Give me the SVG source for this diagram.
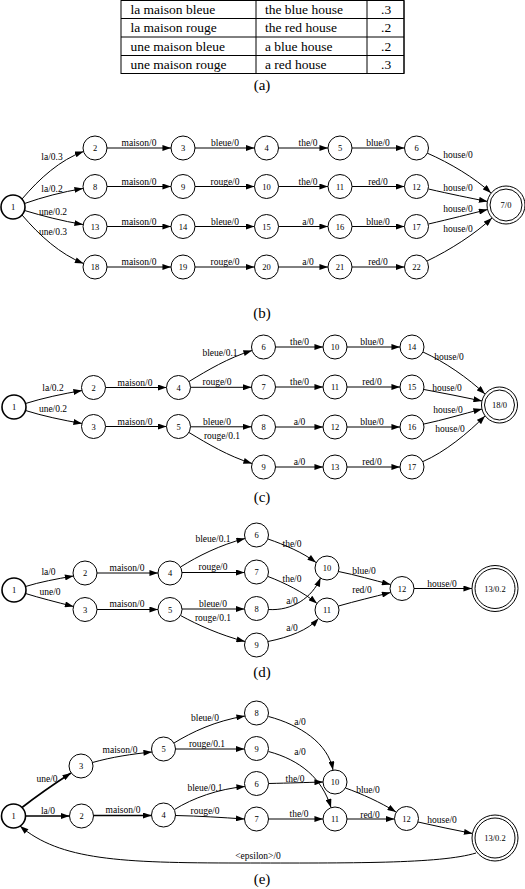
<svg xmlns="http://www.w3.org/2000/svg" width="525" height="889" viewBox="0 0 525 889">
<style>
  text { font-family: "Liberation Serif", "Times New Roman", serif; fill: #000; }
  .tt { font-size: 13.5px; }
  .cap { font-size: 15px; text-anchor: middle; }
  .nl { font-size: 8.5px; text-anchor: middle; }
  .el { font-size: 9.5px; text-anchor: middle; }
  .n { fill: #fff; stroke: #000; stroke-width: 1; }
  .i { fill: #fff; stroke: #000; stroke-width: 1.6; }
  .e { fill: none; stroke: #000; stroke-width: 1; marker-end: url(#a); }
  .b { stroke-width: 1.6; }
  .tl { stroke: #000; stroke-width: 1; fill: none; }
</style>
<defs>
  <marker id="a" viewBox="0 0 10 7" markerUnits="userSpaceOnUse" markerWidth="9" markerHeight="6" refX="10" refY="3.5" orient="auto">
    <path d="M0,0 L10,3.5 L0,7 z" fill="#000"/>
  </marker>
</defs>
<rect width="525" height="889" fill="#fff"/>

<!-- (a) table -->
<g id="table">
  <rect class="tl" x="121" y="0.5" width="283" height="73"/>
  <line class="tl" x1="121" y1="18.5" x2="404" y2="18.5"/>
  <line class="tl" x1="121" y1="37" x2="404" y2="37"/>
  <line class="tl" x1="121" y1="55.5" x2="404" y2="55.5"/>
  <line class="tl" x1="256" y1="0.5" x2="256" y2="73.5"/>
  <line class="tl" x1="367" y1="0.5" x2="367" y2="73.5" stroke-width="1.5"/>
  <line class="tl" x1="404" y1="0.5" x2="404" y2="73.5" stroke-width="2"/>
  <line class="tl" x1="121" y1="73.5" x2="404" y2="73.5" stroke-width="1.5"/>
  <text class="tt" x="130.5" y="13.5">la maison bleue</text>
  <text class="tt" x="130.5" y="32">la maison rouge</text>
  <text class="tt" x="130.5" y="50.5">une maison bleue</text>
  <text class="tt" x="130.5" y="69">une maison rouge</text>
  <text class="tt" x="265" y="13.5">the blue house</text>
  <text class="tt" x="265" y="32">the red house</text>
  <text class="tt" x="265" y="50.5">a blue house</text>
  <text class="tt" x="265" y="69">a red house</text>
  <text class="tt" x="381" y="13.5">.3</text>
  <text class="tt" x="381" y="32">.2</text>
  <text class="tt" x="381" y="50.5">.2</text>
  <text class="tt" x="381" y="69">.3</text>
</g>
<text class="cap" x="262" y="90">(a)</text>

<!-- (b) -->
<g id="b-edges">
  <path class="e" d="M22,199 C40,178 60,160 83.5,151.5"/>
  <path class="e" d="M24.5,203.5 C43,197 62,192 83,188.5"/>
  <path class="e" d="M24.5,210.5 C43,216 62,221 83,224.5"/>
  <path class="e" d="M22,215 C40,236 60,254 83.5,263.5"/>
  <path class="e" d="M107,148 H171"/><path class="e" d="M195,148 H254.5"/><path class="e" d="M278.5,148 H328"/><path class="e" d="M352,148 H404.5"/>
  <path class="e" d="M107,186.5 H171"/><path class="e" d="M195,186.5 H254.5"/><path class="e" d="M278.5,186.5 H328"/><path class="e" d="M352,186.5 H404.5"/>
  <path class="e" d="M107,226.5 H171"/><path class="e" d="M195,226.5 H254.5"/><path class="e" d="M278.5,226.5 H328"/><path class="e" d="M352,226.5 H404.5"/>
  <path class="e" d="M107,267 H171"/><path class="e" d="M195,267 H254.5"/><path class="e" d="M278.5,267 H328"/><path class="e" d="M352,267 H404.5"/>
  <path class="e" d="M427,153 C450,163 475,178 491,193"/>
  <path class="e" d="M428.5,189 C450,194 470,198 487.5,201.5"/>
  <path class="e" d="M428.5,224 C450,219 470,214 487.5,209.5"/>
  <path class="e" d="M427,261 C450,250 475,234 492,218"/>
  <text class="el" x="52" y="160">la/0.3</text>
  <text class="el" x="52" y="192">la/0.2</text>
  <text class="el" x="53" y="214.5">une/0.2</text>
  <text class="el" x="53" y="234.5">une/0.3</text>
  <text class="el" x="139" y="146">maison/0</text><text class="el" x="225" y="146">bleue/0</text><text class="el" x="308" y="146">the/0</text><text class="el" x="378" y="146">blue/0</text>
  <text class="el" x="139" y="184.5">maison/0</text><text class="el" x="225" y="184.5">rouge/0</text><text class="el" x="308" y="184.5">the/0</text><text class="el" x="378" y="184.5">red/0</text>
  <text class="el" x="139" y="224.5">maison/0</text><text class="el" x="225" y="224.5">bleue/0</text><text class="el" x="308" y="224.5">a/0</text><text class="el" x="378" y="224.5">blue/0</text>
  <text class="el" x="139" y="265">maison/0</text><text class="el" x="225" y="265">rouge/0</text><text class="el" x="308" y="265">a/0</text><text class="el" x="378" y="265">red/0</text>
  <text class="el" x="458" y="158">house/0</text>
  <text class="el" x="458" y="190.5">house/0</text>
  <text class="el" x="458" y="212">house/0</text>
  <text class="el" x="458" y="232">house/0</text>
</g>
<g id="b-n1"><circle class="i" cx="13" cy="207" r="12"/><text class="nl" x="13" y="210">1</text></g>
<g id="b-n2"><circle class="n" cx="95" cy="148" r="12"/><text class="nl" x="95" y="151">2</text></g>
<g id="b-n3"><circle class="n" cx="183" cy="148" r="12"/><text class="nl" x="183" y="151">3</text></g>
<g id="b-n4"><circle class="n" cx="266.5" cy="148" r="12"/><text class="nl" x="266.5" y="151">4</text></g>
<g id="b-n5"><circle class="n" cx="340" cy="148" r="12"/><text class="nl" x="340" y="151">5</text></g>
<g id="b-n6"><circle class="n" cx="416.5" cy="148" r="12"/><text class="nl" x="416.5" y="151">6</text></g>
<g id="b-n8"><circle class="n" cx="95" cy="186.5" r="12"/><text class="nl" x="95" y="189.5">8</text></g>
<g id="b-n9"><circle class="n" cx="183" cy="186.5" r="12"/><text class="nl" x="183" y="189.5">9</text></g>
<g id="b-n10"><circle class="n" cx="266.5" cy="186.5" r="12"/><text class="nl" x="266.5" y="189.5">10</text></g>
<g id="b-n11"><circle class="n" cx="340" cy="186.5" r="12"/><text class="nl" x="340" y="189.5">11</text></g>
<g id="b-n12"><circle class="n" cx="416.5" cy="186.5" r="12"/><text class="nl" x="416.5" y="189.5">12</text></g>
<g id="b-n13"><circle class="n" cx="95" cy="226.5" r="12"/><text class="nl" x="95" y="229.5">13</text></g>
<g id="b-n14"><circle class="n" cx="183" cy="226.5" r="12"/><text class="nl" x="183" y="229.5">14</text></g>
<g id="b-n15"><circle class="n" cx="266.5" cy="226.5" r="12"/><text class="nl" x="266.5" y="229.5">15</text></g>
<g id="b-n16"><circle class="n" cx="340" cy="226.5" r="12"/><text class="nl" x="340" y="229.5">16</text></g>
<g id="b-n17"><circle class="n" cx="416.5" cy="226.5" r="12"/><text class="nl" x="416.5" y="229.5">17</text></g>
<g id="b-n18"><circle class="n" cx="95" cy="267" r="12"/><text class="nl" x="95" y="270">18</text></g>
<g id="b-n19"><circle class="n" cx="183" cy="267" r="12"/><text class="nl" x="183" y="270">19</text></g>
<g id="b-n20"><circle class="n" cx="266.5" cy="267" r="12"/><text class="nl" x="266.5" y="270">20</text></g>
<g id="b-n21"><circle class="n" cx="340" cy="267" r="12"/><text class="nl" x="340" y="270">21</text></g>
<g id="b-n22"><circle class="n" cx="416.5" cy="267" r="12"/><text class="nl" x="416.5" y="270">22</text></g>
<g id="b-n7"><circle class="n" cx="506" cy="205" r="19"/><circle class="n" cx="506" cy="205" r="16"/><text class="nl" x="506" y="208">7/0</text></g>
<text class="cap" x="262" y="318">(b)</text>

<!-- (c) -->
<g id="c-edges">
  <path class="e" d="M25.5,403.5 C43,398 62,394 82,390.5"/>
  <path class="e" d="M25.5,410.5 C43,416 62,420 82,423.5"/>
  <path class="e" d="M105.5,387.5 H166.5"/>
  <path class="e" d="M105.5,426.5 H166.5"/>
  <path class="e" d="M189,381.5 C208,370 228,358 252,350.5"/>
  <path class="e" d="M190.5,387.3 H251.5"/>
  <path class="e" d="M190.5,426.8 H251.5"/>
  <path class="e" d="M189,432.5 C208,444 228,456 252,463.5"/>
  <path class="e" d="M275.5,347 H323"/><path class="e" d="M347,347 H400"/>
  <path class="e" d="M275.5,387 H323"/><path class="e" d="M347,387 H400"/>
  <path class="e" d="M275.5,427 H323"/><path class="e" d="M347,427 H400"/>
  <path class="e" d="M275.5,467 H323"/><path class="e" d="M347,467 H400"/>
  <path class="e" d="M423,352 C445,362 468,378 485,394"/>
  <path class="e" d="M424,389.5 C443,393 463,397 482,401"/>
  <path class="e" d="M424,424 C443,420 463,414 482,409"/>
  <path class="e" d="M423,461.5 C445,452 468,433 485,416"/>
  <text class="el" x="53" y="391">la/0.2</text>
  <text class="el" x="53" y="412">une/0.2</text>
  <text class="el" x="135" y="385.5">maison/0</text>
  <text class="el" x="135" y="424.5">maison/0</text>
  <text class="el" x="220" y="356">bleue/0.1</text>
  <text class="el" x="217" y="385">rouge/0</text>
  <text class="el" x="217" y="424.5">bleue/0</text>
  <text class="el" x="222" y="439">rouge/0.1</text>
  <text class="el" x="299.5" y="345">the/0</text><text class="el" x="372" y="345">blue/0</text>
  <text class="el" x="299.5" y="385">the/0</text><text class="el" x="372" y="385">red/0</text>
  <text class="el" x="299.5" y="425">a/0</text><text class="el" x="372" y="425">blue/0</text>
  <text class="el" x="299.5" y="465">a/0</text><text class="el" x="372" y="465">red/0</text>
  <text class="el" x="449" y="360">house/0</text>
  <text class="el" x="447" y="391">house/0</text>
  <text class="el" x="448" y="413">house/0</text>
  <text class="el" x="450" y="432">house/0</text>
</g>
<g id="c-n1"><circle class="i" cx="14" cy="407" r="12"/><text class="nl" x="14" y="410">1</text></g>
<g id="c-n2"><circle class="n" cx="93.5" cy="387.5" r="12"/><text class="nl" x="93.5" y="390.5">2</text></g>
<g id="c-n3"><circle class="n" cx="93.5" cy="426.5" r="12"/><text class="nl" x="93.5" y="429.5">3</text></g>
<g id="c-n4"><circle class="n" cx="178.5" cy="387.5" r="12"/><text class="nl" x="178.5" y="390.5">4</text></g>
<g id="c-n5"><circle class="n" cx="178.5" cy="426.5" r="12"/><text class="nl" x="178.5" y="429.5">5</text></g>
<g id="c-n6"><circle class="n" cx="263.5" cy="347" r="12"/><text class="nl" x="263.5" y="350">6</text></g>
<g id="c-n7"><circle class="n" cx="263.5" cy="387" r="12"/><text class="nl" x="263.5" y="390">7</text></g>
<g id="c-n8"><circle class="n" cx="263.5" cy="427" r="12"/><text class="nl" x="263.5" y="430">8</text></g>
<g id="c-n9"><circle class="n" cx="263.5" cy="467" r="12"/><text class="nl" x="263.5" y="470">9</text></g>
<g id="c-n10"><circle class="n" cx="335" cy="347" r="12"/><text class="nl" x="335" y="350">10</text></g>
<g id="c-n11"><circle class="n" cx="335" cy="387" r="12"/><text class="nl" x="335" y="390">11</text></g>
<g id="c-n12"><circle class="n" cx="335" cy="427" r="12"/><text class="nl" x="335" y="430">12</text></g>
<g id="c-n13"><circle class="n" cx="335" cy="467" r="12"/><text class="nl" x="335" y="470">13</text></g>
<g id="c-n14"><circle class="n" cx="412" cy="347" r="12"/><text class="nl" x="412" y="350">14</text></g>
<g id="c-n15"><circle class="n" cx="412" cy="387" r="12"/><text class="nl" x="412" y="390">15</text></g>
<g id="c-n16"><circle class="n" cx="412" cy="427" r="12"/><text class="nl" x="412" y="430">16</text></g>
<g id="c-n17"><circle class="n" cx="412" cy="467" r="12"/><text class="nl" x="412" y="470">17</text></g>
<g id="c-n18"><circle class="n" cx="499.5" cy="405" r="18"/><circle class="n" cx="499.5" cy="405" r="15"/><text class="nl" x="499.5" y="408">18/0</text></g>
<text class="cap" x="262" y="502">(c)</text>

<!-- (d) -->
<g id="d-edges">
  <path class="e" d="M25.5,586.5 C40,582 56,579 73.5,576"/>
  <path class="e" d="M25.5,593.5 C40,598 56,602 73.5,606.5"/>
  <path class="e" d="M97,573 H158"/>
  <path class="e" d="M97,609.5 H158"/>
  <path class="e" d="M180.5,567 C198,556 220,545 245,538.5"/>
  <path class="e" d="M182,572.5 H244.5"/>
  <path class="e" d="M182,609 H244.5"/>
  <path class="e" d="M180.5,615.5 C198,625 220,635 245,641.5"/>
  <path class="e" d="M268,539 C285,545 302,552 316,562.5"/>
  <path class="e" d="M268,576.5 C285,583 303,592 317,603.5"/>
  <path class="e" d="M268.5,609.5 C292,611 312,598 320.5,578"/>
  <path class="e" d="M268,641.5 C290,637 308,630 318.5,618.5"/>
  <path class="e" d="M338.5,571.5 C356,575 373,580 390.5,584.5"/>
  <path class="e" d="M338.5,606 C356,601 373,597 390.5,592.5"/>
  <path class="e" d="M414,588.5 H472"/>
  <text class="el" x="48.5" y="575">la/0</text>
  <text class="el" x="50" y="595">une/0</text>
  <text class="el" x="127" y="570.5">maison/0</text>
  <text class="el" x="127" y="606.5">maison/0</text>
  <text class="el" x="213" y="541.5">bleue/0.1</text>
  <text class="el" x="213" y="570">rouge/0</text>
  <text class="el" x="213" y="606.5">bleue/0</text>
  <text class="el" x="213" y="621">rouge/0.1</text>
  <text class="el" x="292" y="546.5">the/0</text>
  <text class="el" x="292" y="581.5">the/0</text>
  <text class="el" x="292" y="603.5">a/0</text>
  <text class="el" x="292" y="630.5">a/0</text>
  <text class="el" x="364" y="574">blue/0</text>
  <text class="el" x="362" y="593">red/0</text>
  <text class="el" x="442" y="586.5">house/0</text>
</g>
<g id="d-n1"><circle class="i" cx="14" cy="590" r="12"/><text class="nl" x="14" y="593">1</text></g>
<g id="d-n2"><circle class="n" cx="85" cy="573" r="12"/><text class="nl" x="85" y="576">2</text></g>
<g id="d-n3"><circle class="n" cx="85" cy="609.5" r="12"/><text class="nl" x="85" y="612.5">3</text></g>
<g id="d-n4"><circle class="n" cx="170" cy="573" r="12"/><text class="nl" x="170" y="576">4</text></g>
<g id="d-n5"><circle class="n" cx="170" cy="609.5" r="12"/><text class="nl" x="170" y="612.5">5</text></g>
<g id="d-n6"><circle class="n" cx="256.5" cy="535" r="12"/><text class="nl" x="256.5" y="538">6</text></g>
<g id="d-n7"><circle class="n" cx="256.5" cy="572" r="12"/><text class="nl" x="256.5" y="575">7</text></g>
<g id="d-n8"><circle class="n" cx="256.5" cy="608.5" r="12"/><text class="nl" x="256.5" y="611.5">8</text></g>
<g id="d-n9"><circle class="n" cx="256.5" cy="645" r="12"/><text class="nl" x="256.5" y="648">9</text></g>
<g id="d-n10"><circle class="n" cx="327" cy="568" r="12"/><text class="nl" x="327" y="571">10</text></g>
<g id="d-n11"><circle class="n" cx="327" cy="610" r="12"/><text class="nl" x="327" y="613">11</text></g>
<g id="d-n12"><circle class="n" cx="402" cy="588.5" r="12"/><text class="nl" x="402" y="591.5">12</text></g>
<g id="d-n13"><circle class="n" cx="495" cy="588.5" r="23"/><circle class="n" cx="495" cy="588.5" r="20"/><text class="nl" x="495" y="591.5">13/0.2</text></g>
<text class="cap" x="262" y="677">(d)</text>

<!-- (e) -->
<g id="e-edges">
  <path class="e b" d="M22,807.5 C38,795 54,784 71,773"/>
  <path class="e b" d="M25.5,816 H69.5"/>
  <path class="e" d="M92.5,762.5 C112,757 132,754 152,752"/>
  <path class="e b" d="M93.5,815.5 H151.5"/>
  <path class="e" d="M174,743 C192,732 215,721 245,716"/>
  <path class="e" d="M175.5,749 H244.5"/>
  <path class="e" d="M174.5,809.5 C193,798 218,789 245,786.5"/>
  <path class="e" d="M175.5,815.5 C200,816 222,817.5 244.5,819"/>
  <path class="e" d="M268.5,716.5 C300,725 328,743 333,770"/>
  <path class="e" d="M268.5,751.5 C300,760 322,778 331,807.5"/>
  <path class="e" d="M268.5,783.5 C290,783 305,782.5 323,782"/>
  <path class="e" d="M268.5,819 H323"/>
  <path class="e" d="M345.5,788 C362,794 380,802 396,812"/>
  <path class="e" d="M347,819 H394.5"/>
  <path class="e" d="M418,822 C436,826 454,830 472.5,833.5"/>
  <path class="e" d="M476,853 C440,864 350,863 240,863 C120,863 60,860 20,826"/>
  <text class="el" x="47" y="782">une/0</text>
  <text class="el" x="48" y="813.5">la/0</text>
  <text class="el" x="120" y="752.5">maison/0</text>
  <text class="el" x="123" y="813">maison/0</text>
  <text class="el" x="205" y="720.5">bleue/0</text>
  <text class="el" x="207" y="746.5">rouge/0.1</text>
  <text class="el" x="205" y="790.5">bleue/0.1</text>
  <text class="el" x="205" y="813.5">rouge/0</text>
  <text class="el" x="300" y="725">a/0</text>
  <text class="el" x="300" y="755">a/0</text>
  <text class="el" x="295" y="781.5">the/0</text>
  <text class="el" x="299" y="816.5">the/0</text>
  <text class="el" x="368" y="793">blue/0</text>
  <text class="el" x="370" y="818">red/0</text>
  <text class="el" x="442" y="823">house/0</text>
  <text class="el" x="258" y="859">&lt;epsilon&gt;/0</text>
</g>
<g id="e-n1"><circle class="i" cx="13.5" cy="816" r="12"/><text class="nl" x="13.5" y="819">1</text></g>
<g id="e-n2"><circle class="n" cx="81.5" cy="816" r="12"/><text class="nl" x="81.5" y="819">2</text></g>
<g id="e-n3"><circle class="n" cx="81" cy="766" r="12"/><text class="nl" x="81" y="769">3</text></g>
<g id="e-n4"><circle class="n" cx="163.5" cy="815" r="12"/><text class="nl" x="163.5" y="818">4</text></g>
<g id="e-n5"><circle class="n" cx="163.5" cy="749" r="12"/><text class="nl" x="163.5" y="752">5</text></g>
<g id="e-n6"><circle class="n" cx="256.5" cy="783.5" r="12"/><text class="nl" x="256.5" y="786.5">6</text></g>
<g id="e-n7"><circle class="n" cx="256.5" cy="819" r="12"/><text class="nl" x="256.5" y="822">7</text></g>
<g id="e-n8"><circle class="n" cx="256.5" cy="713" r="12"/><text class="nl" x="256.5" y="716">8</text></g>
<g id="e-n9"><circle class="n" cx="256.5" cy="748.5" r="12"/><text class="nl" x="256.5" y="751.5">9</text></g>
<g id="e-n10"><circle class="n" cx="335" cy="782" r="12"/><text class="nl" x="335" y="785">10</text></g>
<g id="e-n11"><circle class="n" cx="335" cy="819" r="12"/><text class="nl" x="335" y="822">11</text></g>
<g id="e-n12"><circle class="n" cx="406.5" cy="818.5" r="12"/><text class="nl" x="406.5" y="821.5">12</text></g>
<g id="e-n13"><circle class="n" cx="495" cy="838" r="23"/><circle class="n" cx="495" cy="838" r="20"/><text class="nl" x="495" y="841">13/0.2</text></g>
<text class="cap" x="262" y="884">(e)</text>
</svg>
